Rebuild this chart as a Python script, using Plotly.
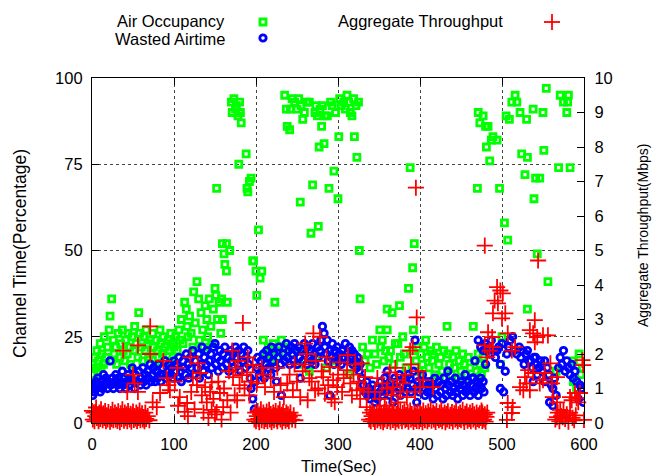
import plotly.graph_objects as go

# ---------------- Air Occupancy (%) ----------------
air_t1 = [1,2,3,4,6,7,8,10,11,12, 14,15,17,19,21,22,24,24,26,27, 29,30,32,34,35,37,38,40,41,43,
          44,46,47,49,51,52,54,56,57,58, 60,62,63,65,66,68,69,71,72,74, 75,77,78,80,81,83,84,86,87,89,
          90,93,94,96,97,99,100,102]
air_v1 = [17,14,19,16,21,15,18,23,16,20, 17,25,19,22,27,31,36,18,24,20, 22,17,26,19,23,27,21,18,24,20,
          26,22,17,25,21,28,23,19,32,26, 22,18,25,21,27,23,19,24,20,26, 22,17,24,21,19,27,23,20,25,22,
          18,24,21,26,23,19,22,25]
air_t2 = [104,106,107,109,111,113,115,116,117,119, 121,123,124,126,128,130,131,133,135,136,
          138,140,141,143,145,146,148,150,151,152, 153,155,157,159,161,162,164,158,165,159]
air_v2 = [21,27,24,30,23,35,33,28,25,31, 26,22,38,29,41,36,24,32,27,22,
          34,30,25,36,28,23,33,39,37,68, 30,35,26,52,49,46,44,36,35,30]
air_t3 = [170,171,173,175,176,178,180,181,182,179, 188,189,190,194,192,203,197,200,201,207, 205,196,168,164]
air_v3 = [93,90,94,91,92,89,93,90,87,75, 78,68,67,71,70,56,47,44,37,44, 42,47,50,52]
air_t4 = [209,212,215,218,221,223,225,228,231,233,235]
air_v4 = [24,20,22,18,23,35,21,19,24,20,22]
air_t5 = [235,237,238,241,242,244,247,250,252,254, 255,257,259,262,265,267,269,272,273,275,
          276,277,278,280,281,283,284,287,289,291, 293,295,297,300,301,302,304,307,309,311,
          313,315,317,319,320,322,323,325,326,327]
air_v5 = [95,91,86,85,91,94,93,91,94,64, 92,88,90,93,93,55,69,90,92,89,
          57,80,91,86,92,81,89,89,68,93, 92,73,90,65,83,94,92,93,91,95,
          93,90,89,94,83,92,77,93,50,36]
air_t6 = [245,252,259,265,273,286,298,314,321]
air_v6 = [20,17,21,15,19,16,18,14,17]
air_t7 = [330,333,336,339,342,345,347,351,352,354, 356,358,360,360,362,364,366,368,370,373,
          375,376,379,381,383,386,388,391,391,392, 393,395,397,399,401,403,405,407,409]
air_v7 = [22,18,20,16,24,20,17,27,22,24, 18,21,33,27,19,21,32,17,23,23,
          34,19,25,20,16,39,74,21,45,27, 52,18,22,15,20,17,22,24,19]
air_t8 = [411,413,415,416,418,420,423,425,427,429, 431,433,434,436,438,440,442,444,446,448,
          450,452,454,456,459,461,463,465,467,469, 471,473,475,477,479,481]
air_v8 = [16,21,18,20,14,22,17,19,15,21, 13,28,20,17,14,19,16,21,13,18,
          15,20,17,14,19,16,13,28,18,15, 20,17,14,19,16,21]
air_t9 = [470,471,473,477,480,481,483,485,487,489, 494,497,500,498,503,505,507,509,512,516,
          518,522,524,528,530,531,531,538,539,541, 543,546,550,551,554,556,566,569,571,575,
          579,581,583,587,587,591,598,594,596,580]
air_v9 = [68,90,87,89,86,80,86,76,82,83, 82,68,25,17,58,89,53,88,93,95,
          93,90,78,72,88,77,33,91,65,71, 49,71,90,79,97,41,15,74,95,93,
          90,95,74,18,12,10,16,20,14,93]

# ---------------- Wasted Airtime (%) ----------------
waste_t1 = [0,1,2,3,5,6,7,9,10,11, 13,14,15,17,19,20,22,23,25,26, 28,29,31,32,34,35,37,38,40,41,
            43,44,46,47,49,50,52,53,55,57, 59,60,62,63,65,66,68,69,71,72, 74,75,77,78,80,81,83,84,86,87,
            89,90,93,94,96,97,99,100,102]
waste_v1 = [10,8,11,9,12,10,13,11,9,12, 10,14,11,13,10,12,18,11,13,10, 12,14,11,13,10,12,15,11,13,10,
            12,14,11,13,16,12,10,14,12,15, 11,13,16,12,14,11,15,13,17,12, 14,16,12,15,13,17,14,12,16,14,
            18,13,15,17,14,16,13,18,15]
waste_t2 = [103,105,106,108,109,111,112,114,115,117, 118,120,121,123,124,126,128,130,131,133,
            134,136,137,139,140,142,143,145,146,148, 150,151,153,154,156,157,159,160,162,164,
            166,167,169,170,172,173,175,176,178,179, 181,182,184,185,187,188,190,191,193,194,
            196,198,199,201,202,204]
waste_v2 = [17,13,19,15,12,18,16,14,20,17, 13,19,16,21,14,18,16,20,13,17,
            22,15,19,17,21,14,18,20,16,22, 23,17,19,15,21,18,16,20,22,17,
            19,15,21,18,20,16,22,19,17,21, 15,20,18,22,16,19,21,17,13,10,
            7,4,12,16,19,14]
waste_t3 = [206,207,209,210,212,213,215,216,218,219, 221,222,224,225,227,228,230,231,233,235,
            237,238,240,241,243,244,246,247,249,250, 252,253,254,256,257,259,260,262,263,265,
            266,268,269,271,272,275,276,278,279,281, 283,284,286,287,288,290,290,292,293,295,
            296,298,299,301,302,304,305,308,309,311, 312,314,315,317,318,320,321,323,324,326,
            327,329,331,333,335,336,338,339,341,342, 344,345,347,348]
waste_v3 = [18,15,20,13,17,21,16,19,14,22, 18,20,16,12,19,22,17,8,20,18,
            23,19,21,17,22,20,18,23,21,17, 22,19,13,21,18,23,20,17,22,19,
            21,18,23,20,17,22,19,21,24,28, 26,22,20,24,18,8,21,19,23,17,
            21,19,22,18,20,17,21,19,23,20, 18,22,19,21,17,20,18,16,19,15,
            17,13,11,9,12,8,10,7,9,11, 8,6,10,7]
waste_t4 = [351,352,354,355,357,358,360,361,363,364, 366,367,369,370,372,373,375,376,379,380,
            382,383,385,386,388,389,391,392,394,395, 396,398,399,401,403,404,406,407,409,410]
waste_v4 = [9,12,8,10,13,9,15,11,8,12, 10,6,13,9,12,10,14,8,11,13,
            9,12,10,14,13,9,11,15,24,10, 6,12,9,11,14,10,8,12,9,11]
waste_t5 = [412,413,415,416,418,419,421,423,425,426, 428,429,431,432,434,435,437,438,440,441,
            443,444,446,447,449,450,452,453,455,456, 458,459,461,462,464,466,468,469,471,472,
            474,475,477,478,480,482]
waste_v5 = [12,9,11,7,13,10,8,12,9,11, 7,13,10,8,15,11,9,12,8,10,
            13,9,7,11,10,12,8,11,14,9, 10,12,8,11,13,9,10,12,8,11,
            13,10,12,9,17,21]
waste_t6 = [465,467,471,474,477,480,483,485,487,490, 492,494,496,498,498,500,502,504,506,508,
            510,513,515,518,521,523,525,527,529,531, 533,535,537,538,539,541,542,543,545,547,
            549,552,552,555,557,558,560,562,562,564, 566,569,571,573,575,577,579,581,583,585,
            587,589,591,593,595,597,599]
waste_v6 = [13,18,24,22,21,23,22,20,24,21, 19,21,22,17,10,23,9,15,20,22,
            24,25,21,20,22,19,21,17,20,21, 18,18,16,12,19,19,17,14,16,18,
            15,18,12,16,14,6,11,10,5,13, 8,16,19,17,21,15,18,16,14,17,
            13,15,12,7,11,10,6]

# ---------------- Aggregate Throughput (Mbps) ----------------
thr_t1 = [0,1,2,3,4,5,6,7,8,9, 10,11,12,13,14,15,16,17,18,19, 20,21,22,23,24,25,26,27,28,29,
          30,31,32,33,34,35,36,37,38,39, 40,41,42,43,44,45,46,47,48,49, 50,51,52,53,54,55,56,57,58,59,
          60,61,62,63,64,65,66,68,70]
thr_v1 = [0.35,0.1,0.3,0.05,0.2,0.45,0.15,0.25,0.05,0.3, 0.12,0.4,0.2,0.08,0.28,0.15,0.35,0.05,0.22,0.1,
          0.32,0.18,0.04,0.26,0.12,0.38,0.08,0.2,0.3,0.1, 0.24,0.06,0.34,0.16,0.02,0.28,0.12,0.4,0.2,0.07,
          0.3,0.14,0.25,0.05,0.35,0.18,0.1,0.27,0.04,0.22, 0.33,0.09,0.2,0.13,0.3,0.06,0.24,0.15,0.36,0.08,
          0.2,0.28,0.1,0.17,0.05,0.3,0.12,0.2,0.08]
thr_t2 = [4,38,56,71,71,50,52,43,56,87, 104,93,83,79,95,107,116,113,123,132,
          129,120,138,146,156,165,177,146,152,160, 171,178,172,183,184,190,196,189]
thr_v2 = [0.32,2.1,2.25,2.8,2.0,1.4,1.15,0.9,0.9,1.8, 1.6,1.1,0.87,0.46,0.95,0.75,0.58,0.32,1.3,1.45,
          1.73,1.9,1.04,1.18,0.87,0.66,0.66,0.38,0.32,0.46, 2.1,1.8,1.33,1.39,2.9,1.9,1.68,1.47]
thr_t3 = [74,91,101,105,117,121,125,128,134,136, 140,142,144,148,150,154,158,161,167,169,
          174,175,180,186,192,194]
thr_v3 = [0.6,1.3,1.2,0.5,0.2,0.9,0.4,1.1,0.8,0.3, 0.6,0.15,0.9,0.7,0.25,1.2,0.1,1.0,1.5,0.3,
          0.8,1.6,1.1,1.0,0.8,1.2]
thr_t4 = [198,199,200,201,202,203,204,205,206,207, 208,209,210,211,212,213,214,215,216,217,
          218,219,220,221,222,223,224,225,226,227, 228,229,230,231,232,233,234,235,236,237,
          238,239,240,241,242,244,246,248]
thr_v4 = [0.1,0.3,0.05,0.2,0.35,0.12,0.02,0.25,0.4,0.08, 0.18,0.3,0.05,0.22,0.12,0.33,0.06,0.2,0.38,0.1,
          0.26,0.03,0.15,0.3,0.08,0.22,0.35,0.12,0.05,0.28, 0.17,0.4,0.1,0.24,0.04,0.32,0.15,0.2,0.07,0.3,
          0.12,0.25,0.05,0.18,0.3,0.1,0.22,0.08]
thr_t5 = [207,201,211,209,260,262,278,260,268,245, 254,263,282,290,294,302,312,311,299,315,
          323,329,333,335,296,272,238]
thr_v5 = [1.6,1.15,1.04,1.4,2.3,2.0,2.5,1.7,1.2,0.95, 0.75,0.66,1.33,1.62,1.24,1.76,1.97,1.53,1.04,1.15,
          0.95,1.73,1.33,0.46,0.6,0.95,1.15]
thr_t6 = [218,222,226,230,234,241,247,250,257,265, 270,273,276,280,284,286,288,292,300,305,
          307,317,319,321,325,327,331,337]
thr_v6 = [1.3,0.9,1.6,1.1,0.75,1.4,1.7,1.2,1.5,1.3, 2.6,1.8,1.0,1.5,0.85,1.9,1.1,0.7,1.4,0.9,
          1.3,0.8,1.4,1.7,1.2,0.7,1.0,0.9]
thr_t7 = [338,339,340,341,342,343,344,345,346,347, 348,349,350,351,352,353,354,355,356,357,
          358,359,360,361,362,363,364,365,366,367, 368,369,370,371,372,373,374,375,376,377,
          378,379,380,381,382,383,384,385,386,387, 388,389,390,391,392,393,394,395,396,397,
          398,399,400,401,402,403,404,405,406,407, 408,409,410,411,412,413,414,415,416,417,
          418,419,420,421,422,423,424,425,426,427, 428,429,430,431,432,433,434,435,436,437,
          438,439,440,441,442,443,444,445,446,447, 448,449,450,451,452,453,454,455,456,457,
          458,459,460,461,462,463,464,465,466,467, 468,469,470,471,472,473,474,475,476,477,
          478,479,480,481,482]
thr_v7 = [0.1,0.3,0.05,0.2,0.38,0.12,0.25,0.03,0.18,0.32, 0.08,0.22,0.14,0.36,0.05,0.27,0.16,0.02,0.3,0.1,
          0.2,0.4,0.06,0.24,0.13,0.33,0.04,0.19,0.28,0.09, 0.35,0.15,0.02,0.26,0.11,0.3,0.07,0.21,0.38,0.14,
          0.05,0.29,0.17,0.34,0.08,0.23,0.12,0.31,0.04,0.2, 0.36,0.1,0.26,0.15,0.03,0.3,0.12,0.22,0.06,0.33,
          0.18,0.05,0.3,0.12,0.25,0.02,0.36,0.15,0.08,0.28, 0.2,0.05,0.33,0.12,0.22,0.4,0.07,0.18,0.3,0.1,
          0.25,0.03,0.35,0.15,0.2,0.08,0.3,0.12,0.38,0.05, 0.22,0.16,0.3,0.02,0.26,0.1,0.34,0.18,0.06,0.24,
          0.14,0.32,0.04,0.2,0.28,0.1,0.36,0.15,0.05,0.25, 0.12,0.3,0.08,0.2,0.38,0.14,0.03,0.27,0.17,0.33,
          0.07,0.22,0.12,0.3,0.05,0.2,0.35,0.1,0.25,0.16, 0.04,0.3,0.12,0.22,0.08,0.28,0.15,0.36,0.06,0.2,
          0.1,0.25,0.04,0.18,0.3]
thr_t8 = [363,372,354,367,379,384,373,388,391,396, 400,395,416,404,345,348,351,357,360,365,
          370,376,382,389,394,398]
thr_v8 = [1.47,1.24,1.15,1.04,1.15,0.75,0.6,2.1,2.2,3.06, 1.04,6.82,1.04,1.24,0.9,1.3,0.7,0.5,1.0,0.8,
          1.6,0.9,1.4,1.7,0.9,1.5]
thr_t9 = [494,498,501,495,491,489,504,500,483,488, 479,485,489,482,507,512,516,507,513,512,
          522,526,530,534,528,538,532,538,540,534, 543,540,550,556,544,546,550,559,552,561,
          567,562,567,571,567,574,583,589,585,591, 595,593,598,599,600,506,479,476]
thr_v9 = [3.94,3.84,3.76,3.47,3.55,3.18,3.18,3.03,2.63,2.49, 2.25,2.1,2.2,1.9,2.6,2.1,2.2,0.58,0.46,0.29,
          1.04,0.95,1.15,0.95,1.33,1.45,1.53,2.6,2.98,2.69, 2.49,2.34,2.54,2.54,4.71,1.15,1.24,1.73,1.45,1.15,
          1.33,0.75,0.6,0.38,0.17,0.17,0.75,0.87,0.66,0.72, 0.87,0.6,1.82,1.68,0.09,0.09,5.14,0.3]
thr_t10 = [565,568,570,572,575,577,579,581,583,586,588,590]
thr_v10 = [0.1,0.3,0.05,0.2,0.35,0.12,0.25,0.04,0.3,0.15,0.08,0.22]

x_ticks = [0, 100, 200, 300, 400, 500, 600]
y_ticks = [0, 25, 50, 75, 100]
y2_ticks = [0, 1, 2, 3, 4, 5, 6, 7, 8, 9, 10]

air_t = air_t1 + air_t2 + air_t3 + air_t4 + air_t5 + air_t6 + air_t7 + air_t8 + air_t9
air_v = air_v1 + air_v2 + air_v3 + air_v4 + air_v5 + air_v6 + air_v7 + air_v8 + air_v9
waste_t = waste_t1 + waste_t2 + waste_t3 + waste_t4 + waste_t5 + waste_t6
waste_v = waste_v1 + waste_v2 + waste_v3 + waste_v4 + waste_v5 + waste_v6
thr_t = thr_t1 + thr_t2 + thr_t3 + thr_t4 + thr_t5 + thr_t6 + thr_t7 + thr_t8 + thr_t9 + thr_t10
thr_v = thr_v1 + thr_v2 + thr_v3 + thr_v4 + thr_v5 + thr_v6 + thr_v7 + thr_v8 + thr_v9 + thr_v10

FONT = "Liberation Sans, Arial, Helvetica, sans-serif"
FS = 16.5

fig = go.Figure()
fig.add_trace(go.Scatter(x=air_t, y=air_v, mode="markers", name="Air Occupancy",
                         marker=dict(symbol="square-open", size=6, color="#00ff00",
                                     line=dict(width=2.8, color="#00ff00")),
                         showlegend=False))
fig.add_trace(go.Scatter(x=waste_t, y=waste_v, mode="markers", name="Wasted Airtime",
                         marker=dict(symbol="circle-open", size=6.5, color="#0000ff",
                                     line=dict(width=2.8, color="#0000ff")),
                         showlegend=False))
fig.add_trace(go.Scatter(x=thr_t, y=thr_v, mode="markers", name="Aggregate Throughput",
                         yaxis="y2", cliponaxis=False,
                         marker=dict(symbol="cross-thin-open", size=11.5, color="#ff0000",
                                     line=dict(width=1.8, color="#ff0000")),
                         showlegend=False))

W, H = 655, 475
L, R, T, B = 92, 584, 78, 423
pw, ph = R - L, B - T

def px_x(px):
    return (px - L) / pw

def px_y(py):
    return (B - py) / ph

axis_common = dict(showline=True, linecolor="black", linewidth=1.2, ticks="inside",
                   ticklen=7, tickcolor="black", tickwidth=1.2,
                   tickfont=dict(family=FONT, size=FS, color="black"), zeroline=False)

fig.update_layout(
    width=W, height=H, margin=dict(l=L, r=W - R, t=T, b=H - B, autoexpand=False),
    paper_bgcolor="white", plot_bgcolor="white", showlegend=False,
    xaxis=dict(range=[0, 600], tickvals=x_ticks, mirror="ticks", showgrid=True,
               gridcolor="#444", griddash="dot", gridwidth=1, ticklabelstandoff=6, **axis_common),
    yaxis=dict(range=[0, 100], tickvals=y_ticks, showgrid=True, gridcolor="#444",
               griddash="dot", gridwidth=1, ticklabelstandoff=5, **axis_common),
    yaxis2=dict(range=[0, 10], tickvals=y2_ticks, overlaying="y", side="right",
                showgrid=False, ticklabelstandoff=6, **axis_common),
)

ann_font = dict(family=FONT, size=FS, color="black")
fig.add_annotation(text="Time(Sec)", xref="paper", yref="paper", x=0.5, y=px_y(466),
                   showarrow=False, font=ann_font, xanchor="center", yanchor="middle")
fig.add_annotation(text="Channel Time(Percentage)", xref="paper", yref="paper",
                   x=px_x(20), y=px_y(254), textangle=-90, showarrow=False,
                   font=dict(family=FONT, size=17.5, color="black"),
                   xanchor="center", yanchor="middle")
fig.add_annotation(text="Aggregate Throughput(Mbps)", xref="paper", yref="paper",
                   x=px_x(643), y=px_y(236), textangle=-90, showarrow=False,
                   font=dict(family=FONT, size=14, color="black"),
                   xanchor="center", yanchor="middle")
# legend texts
fig.add_annotation(text="Air Occupancy", xref="paper", yref="paper", x=px_x(227), y=px_y(21),
                   showarrow=False, font=ann_font, xanchor="right", yanchor="middle")
fig.add_annotation(text="Wasted Airtime", xref="paper", yref="paper", x=px_x(227), y=px_y(39),
                   showarrow=False, font=ann_font, xanchor="right", yanchor="middle")
fig.add_annotation(text="Aggregate Throughput", xref="paper", yref="paper", x=px_x(336), y=px_y(21),
                   showarrow=False, font=ann_font, xanchor="left", yanchor="middle")
# legend keys
fig.add_shape(type="rect", xref="paper", yref="paper", xsizemode="pixel", ysizemode="pixel",
              xanchor=px_x(263), yanchor=px_y(22), x0=-3, x1=3, y0=-3, y1=3,
              line=dict(color="#00ff00", width=2.8))
fig.add_shape(type="circle", xref="paper", yref="paper", xsizemode="pixel", ysizemode="pixel",
              xanchor=px_x(263), yanchor=px_y(38), x0=-3.2, x1=3.2, y0=-3.2, y1=3.2,
              line=dict(color="#0000ff", width=2.8))
fig.add_shape(type="line", xref="paper", yref="paper", xsizemode="pixel", ysizemode="pixel",
              xanchor=px_x(552), yanchor=px_y(22), x0=-8, x1=8, y0=0, y1=0,
              line=dict(color="#ff0000", width=1.8))
fig.add_shape(type="line", xref="paper", yref="paper", xsizemode="pixel", ysizemode="pixel",
              xanchor=px_x(552), yanchor=px_y(22), x0=0, x1=0, y0=-8, y1=8,
              line=dict(color="#ff0000", width=1.8))

fig.write_html("out.html")
